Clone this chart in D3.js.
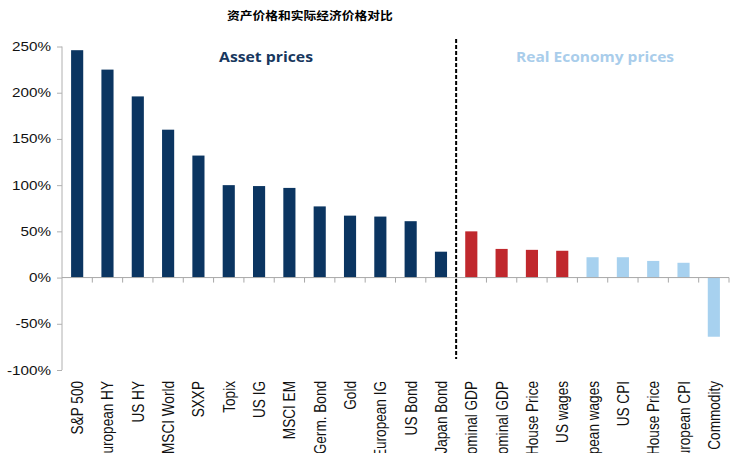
<!DOCTYPE html>
<html><head><meta charset="utf-8">
<script src="https://cdn.jsdelivr.net/npm/d3@7"></script>
<style>body{margin:0;background:#fff}svg{display:block}</style>
</head><body>
<svg id="c" width="744" height="453"></svg>
<script>
const categories = ["S&P 500","European HY","US HY","MSCI World","SXXP","Topix","US IG","MSCI EM","Germ. Bond","Gold","European IG","US Bond","Japan Bond","US Nominal GDP","EU Nominal GDP","US House Price","US wages","European wages","US CPI","EU House Price","European CPI","Commodity"];
const values = [246,225,196,160,132,100,99,97,77,67,66,61,28,50,31,30,29,22,22,18,16,-64];
const groups = ["asset","asset","asset","asset","asset","asset","asset","asset","asset","asset","asset","asset","asset","red","red","red","red","real","real","real","real","real"];
const yTicks = [-100,-50,0,50,100,150,200,250];
const title = "资产价格和实际经济价格对比";

const svg = d3.select("#c");
const m = {l:62, r:729, t:46.5, b:370};
const sx = 1.22; // horizontal stretch of the reference's text
const x = d3.scaleBand().domain(categories).range([m.l, m.r]).paddingInner(0.6).paddingOuter(0.3);
const y = d3.scaleLinear().domain([-100,250]).range([m.b, m.t]);
const colors = {asset:"#0B3561", red:"#C0282D", real:"#A7D1EF"};

// y axis
const ya = svg.append("g").attr("transform",`translate(${m.l},0)`)
  .call(d3.axisLeft(y).tickValues(yTicks).tickSize(5).tickPadding(6).tickFormat(d=>d+"%"));
ya.select(".domain").attr("stroke","#b0b0b0").attr("d",`M-0,${y(-100)}V${y(250)}`);
ya.selectAll(".tick line").attr("stroke","#b0b0b0");
ya.selectAll(".tick text").attr("font-family","Liberation Sans, Arial, sans-serif").attr("font-size","12.5px").attr("fill","#111")
  .attr("x", -11/sx).attr("transform",`scale(${sx},1)`);

// bars
svg.append("g").selectAll("rect").data(categories).join("rect")
  .attr("x", d=>x(d)).attr("width", x.bandwidth())
  .attr("y", (d,i)=>y(Math.max(0,values[i])))
  .attr("height", (d,i)=>Math.abs(y(values[i])-y(0)))
  .attr("fill", (d,i)=>colors[groups[i]]);

// x axis (zero line) with ticks between categories
const xa = svg.append("g");
xa.append("line").attr("x1",m.l).attr("x2",m.r).attr("y1",y(0)).attr("y2",y(0)).attr("stroke","#a8a8a8").attr("stroke-width",1);
xa.selectAll("line.t").data(d3.range(1, categories.length+1)).join("line").attr("class","t")
  .attr("x1", i=>m.l + i*(m.r-m.l)/categories.length).attr("x2", i=>m.l + i*(m.r-m.l)/categories.length)
  .attr("y1", y(0)).attr("y2", y(0)+5).attr("stroke","#a8a8a8");

// category labels
svg.append("g").selectAll("text").data(categories).join("text")
  .attr("transform", d=>`translate(${x(d)+x.bandwidth()/2},381) scale(${sx},1) rotate(-90)`)
  .attr("text-anchor","end").attr("dominant-baseline","central")
  .attr("font-family","Liberation Sans, Arial, sans-serif").attr("font-size","13.6px").attr("fill","#111")
  .text(d=>d);

// divider
const divX = m.l + 13*(m.r-m.l)/categories.length;
svg.append("line").attr("x1",divX).attr("x2",divX).attr("y1",39).attr("y2",359)
  .attr("stroke","#000").attr("stroke-width",2).attr("stroke-dasharray","4,2");

// section labels
svg.append("text").attr("x",219).attr("y",62).attr("font-family","Open Sans, sans-serif").attr("font-weight","bold")
  .attr("font-size","15px").attr("fill","#17375E").attr("textLength",94).attr("lengthAdjust","spacingAndGlyphs").text("Asset prices");
svg.append("text").attr("x",516).attr("y",62).attr("font-family","Open Sans, sans-serif").attr("font-weight","bold")
  .attr("font-size","15px").attr("fill","#A9CDEB").attr("textLength",158).attr("lengthAdjust","spacingAndGlyphs").text("Real Economy prices");

// title
svg.append("text").attr("transform","translate(227,20) scale(1.1,1)").attr("font-family","Noto Sans CJK SC, sans-serif").attr("font-weight","bold")
  .attr("font-size","11.6px").attr("fill","#000").text(title);
</script>
</body></html>
